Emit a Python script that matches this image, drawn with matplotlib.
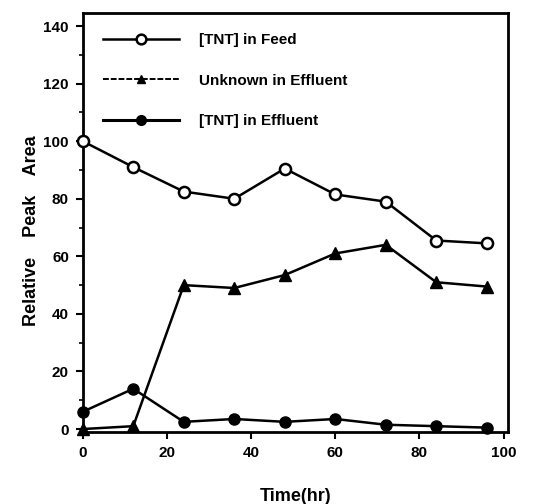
import numpy as np
import matplotlib.pyplot as plt
from matplotlib.lines import Line2D

plt.rcParams['font.family'] = ['Liberation Sans', 'DejaVu Sans']
plt.rcParams['font.weight'] = 'bold'

# Data
time_hr = [0, 12, 24, 36, 48, 60, 72, 84, 96]
tnt_feed = [100, 91, 82.5, 80, 90.5, 81.5, 79, 65.5, 64.5]
unknown_effluent = [0, 1, 50, 49, 53.5, 61, 64, 51, 49.5]
tnt_effluent = [6, 14, 2.5, 3.5, 2.5, 3.5, 1.5, 1, 0.5]

fig = plt.figure(figsize=(5.34, 5.04), dpi=100)
ax = fig.add_axes([0.155, 0.143, 0.796, 0.831])

ax.plot(time_hr, tnt_feed, color='black', lw=1.8, marker='o', ms=8,
        mfc='white', mec='black', mew=1.8, clip_on=False, zorder=3)
ax.plot(time_hr, unknown_effluent, color='black', lw=1.8, marker='^', ms=8,
        mfc='black', mec='black', clip_on=False, zorder=3)
ax.plot(time_hr, tnt_effluent, color='black', lw=1.8, marker='o', ms=8,
        mfc='black', mec='black', clip_on=False, zorder=3)

handles = [
    Line2D([], [], color='black', lw=1.8, marker='o', ms=7, mfc='white', mew=1.8),
    Line2D([], [], color='black', lw=1.4, ls=(0, (3, 1)), marker='^', ms=6, mfc='black'),
    Line2D([], [], color='black', lw=2.2, marker='o', ms=7, mfc='black'),
]
labels = ['[TNT] in Feed', 'Unknown in Effluent', '[TNT] in Effluent']
ax.legend(handles, labels, loc='upper left', frameon=False,
          handlelength=5.0, handletextpad=1.3, labelspacing=1.75,
          borderaxespad=0.9, prop={'weight': 'bold', 'size': 11})

ax.set_xlim(0, 101)
ax.set_ylim(-1, 144.5)
ax.set_xticks(np.arange(0, 101, 20))
ax.set_yticks(np.arange(0, 141, 20))
ax.set_yticks(np.arange(10, 141, 20), minor=True)
ax.tick_params(axis='both', which='major', direction='out', length=5, width=1.5,
               labelsize=11, pad=5)
ax.tick_params(axis='y', which='minor', direction='out', length=3, width=1.2)
for lab in ax.get_xticklabels() + ax.get_yticklabels():
    lab.set_fontweight('bold')

for s in ax.spines.values():
    s.set_linewidth(2)

ax.set_xlabel('Time(hr)', fontsize=13, fontweight='bold')
ax.xaxis.set_label_coords(0.5, -0.135)
ax.set_ylabel('Relative    Peak    Area', fontsize=13, fontweight='bold')
ax.yaxis.set_label_coords(-0.1, 0.48)

fig.savefig('out.png', dpi=100)
